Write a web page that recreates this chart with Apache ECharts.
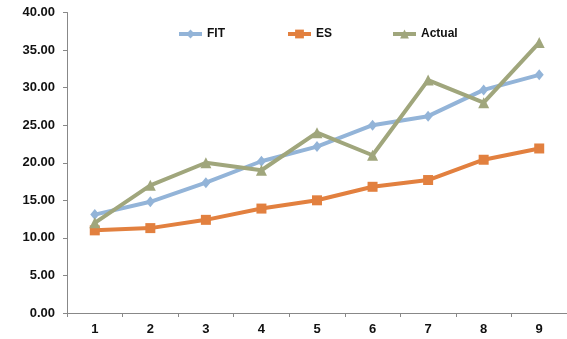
<!DOCTYPE html>
<html>
<head>
<meta charset="utf-8">
<script src="https://cdn.jsdelivr.net/npm/echarts@6/dist/echarts.min.js"></script>
<style>
html,body{margin:0;padding:0;background:#fff;}
#chart{width:567px;height:339px;}
</style>
</head>
<body>
<div id="chart"></div>
<script>
const categories = ['1','2','3','4','5','6','7','8','9'];
const fitValues = [13.1, 14.8, 17.35, 20.2, 22.15, 25.0, 26.2, 29.7, 31.7];
const esValues = [11.0, 11.3, 12.4, 13.9, 15.0, 16.8, 17.7, 20.4, 21.9];
const actualValues = [12, 17, 20, 19, 24, 21, 31, 28, 36];
const seriesNames = ['FIT', 'ES', 'Actual'];

const colors = ['#93B4D8', '#E2803F', '#A0A67C'];
const font = '"Liberation Sans", Arial, sans-serif';

const chart = echarts.init(document.getElementById('chart'), null, {renderer: 'canvas'});
const legendLefts = [172, 281, 386];
chart.setOption({
  animation: false,
  backgroundColor: '#ffffff',
  grid: {left: 67, right: -1, top: 12.5, bottom: 26, containLabel: false},
  legend: seriesNames.map((n, i) => ({
    data: [n],
    left: legendLefts[i],
    top: 23,
    itemWidth: 23,
    itemHeight: 11,
    lineStyle: {width: 4},
    textStyle: {fontFamily: font, fontWeight: 'bold', fontSize: 12, color: '#111'}
  })),
  xAxis: {
    type: 'category',
    data: categories,
    boundaryGap: true,
    axisLine: {lineStyle: {color: '#888', width: 1}},
    axisTick: {show: true, length: 4, lineStyle: {color: '#888'}},
    axisLabel: {fontFamily: font, fontWeight: 'bold', fontSize: 13, color: '#111', margin: 10},
    splitLine: {show: false}
  },
  yAxis: {
    type: 'value',
    min: 0, max: 40, interval: 5,
    axisLine: {show: true, lineStyle: {color: '#888', width: 1}},
    axisTick: {show: true, length: 4, lineStyle: {color: '#888'}},
    axisLabel: {fontFamily: font, fontWeight: 'bold', fontSize: 13, color: '#111', margin: 12,
      formatter: v => v.toFixed(2)},
    splitLine: {show: false}
  },
  series: [
    {name: 'FIT', type: 'line', data: fitValues, symbol: 'diamond', symbolSize: [9, 11],
      lineStyle: {width: 4, color: colors[0]}, itemStyle: {color: colors[0]}},
    {name: 'ES', type: 'line', data: esValues, symbol: 'rect', symbolSize: 10,
      lineStyle: {width: 4, color: colors[1]}, itemStyle: {color: colors[1]}},
    {name: 'Actual', type: 'line', data: actualValues, symbol: 'triangle', symbolSize: 11,
      lineStyle: {width: 4, color: colors[2]}, itemStyle: {color: colors[2]}}
  ]
});
</script>
</body>
</html>
